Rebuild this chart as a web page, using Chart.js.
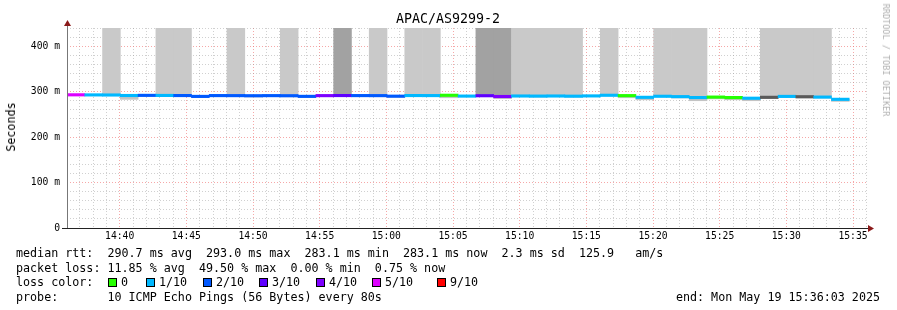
<!DOCTYPE html>
<html>
<head>
<meta charset="utf-8">
<script src="https://cdn.jsdelivr.net/npm/chart.js@4.4.1/dist/chart.umd.min.js"></script>
<style>
body { margin: 0; background: #fff; }
#wrap { position: relative; width: 897px; height: 310px; overflow: hidden; font-family: "DejaVu Sans Mono", monospace; color: #000; }
canvas { position: absolute; left: 0; top: 0; }
.t { position: absolute; white-space: pre; font-size: 11.7px; line-height: 14px; }
.sq { position: absolute; width: 7px; height: 7px; border: 1px solid #000; }
</style>
</head>
<body>
<div id="wrap">
  <canvas id="myChart" width="897" height="310"></canvas>
  <div class="t" style="left:448px;top:11px;transform:translateX(-50%);font-size:13.3px;line-height:16px">APAC/AS9299-2</div>
  <div class="t" style="left:11px;top:127px;transform:translate(-50%,-50%) rotate(-90deg)">Seconds</div>
  <div class="t" style="left:886px;top:60px;transform:translate(-50%,-50%) rotate(90deg);font-size:8.5px;color:#b0b0b0">RRDTOOL / TOBI OETIKER</div>
  <div class="t" style="left:16px;top:246px">median rtt:  290.7 ms avg  293.0 ms max  283.1 ms min  283.1 ms now  2.3 ms sd  125.9   am/s</div>
  <div class="t" style="left:16px;top:261px">packet loss: 11.85 % avg  49.50 % max  0.00 % min  0.75 % now</div>
  <div class="t" style="left:16px;top:275px">loss color:</div>
  <div id="losslegend"></div>
  <div class="t" style="left:16px;top:290px">probe:       10 ICMP Echo Pings (56 Bytes) every 80s</div>
  <div class="t" style="right:17px;top:290px">end: Mon May 19 15:36:03 2025</div>
</div>
<script>
// 45 steps of 80s, from 14:36:03 to 15:36:03
const medians = [293.0, 292.8, 292.6, 291.5, 291.8, 291.6, 291.4, 289.5, 291.3, 291.2,
                 291.0, 291.2, 291.0, 289.6, 291.2, 291.4, 291.3, 291.2, 290.0, 291.4,
                 291.3, 292.0, 290.2, 291.0, 289.3, 290.4, 290.2, 290.4, 290.0, 290.6,
                 292.0, 291.2, 287.5, 289.8, 289.0, 287.0, 288.0, 287.0, 285.5, 287.5,
                 289.5, 288.8, 288.0, 283.1, null]
const loss = ['5', '1', '1', '1', '2', '1', '2', '2', '2', '2',
              '2', '2', '2', '2', '4', '3', '2', '2', '2', '1',
              '1', '0', '1', '3', '4', '1', '1', '1', '1', '1',
              '1', '0', '1', '1', '1', '1', '0', '0', '1', 'x',
              '1', 'x', '1', '1', null]
// upper smoke: l = light, d = dark
const upperSmoke = ['', '', 'l', '', '', 'l', 'l', '', '', 'l',
                    '', '', 'l', '', '', 'd', '', 'l', '', 'l',
                    'l', '', '', 'd', 'd', 'l', 'l', 'l', 'l', '',
                    'l', '', '', 'l', 'l', 'l', '', '', '', 'l',
                    'l', 'l', 'l', '', '']
const lowerSmoke = [null, null, null, 283.0, null, null, null, 287.5, null, null,
                    288.0, null, 288.5, 287.5, null, null, null, null, 287.5, null,
                    null, 286.5, null, null, 284.5, null, 288.0, null, 288.0, null,
                    null, 286.5, 282.0, null, 286.0, 280.0, 284.0, 282.0, 280.0, 284.5,
                    null, 286.0, 286.0, 278.5, null]

const lossColors = { '0': '#26ff00', '1': '#00b8ff', '2': '#0059ff', '3': '#5e00ff',
                     '4': '#7e00ff', '5': '#dd00ff', '9': '#ff0000', 'x': '#5a5a5a' }
const legendItems = [['0', '0', 108], ['1', '1/10', 146], ['2', '2/10', 203], ['3', '3/10', 259],
                     ['4', '4/10', 316], ['5', '5/10', 372], ['9', '9/10', 437]]

const startMin = 14 * 60 + 36 + 3 / 60
const yMax = 440

const lg = document.getElementById('losslegend')
legendItems.forEach(it => {
  const s = document.createElement('div')
  s.className = 'sq'
  s.style.left = it[2] + 'px'
  s.style.top = '278px'
  s.style.background = lossColors[it[0]]
  lg.appendChild(s)
  const t = document.createElement('div')
  t.className = 't'
  t.style.left = (it[2] + 13) + 'px'
  t.style.top = '275px'
  t.textContent = it[1]
  lg.appendChild(t)
})

const steps = medians.map((m, i) => i)
const pad2 = n => String(n).padStart(2, '0')

const bar = {
  xAxisID: 'xb', grouped: false, barPercentage: 1, categoryPercentage: 1,
  borderWidth: 0, borderSkipped: false
}

const axisPlugin = {
  id: 'axes',
  afterDraw(chart) {
    const c = chart.ctx, a = chart.chartArea
    c.save()
    c.strokeStyle = '#777'
    c.lineWidth = 1
    c.beginPath(); c.moveTo(a.left + 0.5, a.bottom); c.lineTo(a.left + 0.5, a.top - 4); c.stroke()
    c.strokeStyle = '#222'
    c.beginPath(); c.moveTo(a.left - 5, a.bottom + 0.5); c.lineTo(a.right + 3, a.bottom + 0.5); c.stroke()
    c.fillStyle = '#8b1a1a'
    c.beginPath(); c.moveTo(a.left - 3, a.top - 2); c.lineTo(a.left + 4, a.top - 2); c.lineTo(a.left + 0.5, a.top - 8); c.closePath(); c.fill()
    c.beginPath(); c.moveTo(a.right + 1, a.bottom - 3); c.lineTo(a.right + 1, a.bottom + 4); c.lineTo(a.right + 7, a.bottom + 0.5); c.closePath(); c.fill()
    c.restore()
  }
}

const ctx = document.getElementById('myChart').getContext('2d')
const myChart = new Chart(ctx, {
  type: 'bar',
  data: {
    labels: steps,
    datasets: [
      Object.assign({
        data: medians.map((m, i) => m !== null ? [m - 2.7, m + 2.7] : null),
        backgroundColor: loss.map(l => l ? lossColors[l] : '#000'),
        order: 1
      }, bar),
      Object.assign({
        data: medians.map((m, i) => lowerSmoke[i] !== null ? [lowerSmoke[i], m] : null),
        backgroundColor: '#c4c4c4',
        order: 3
      }, bar),
      Object.assign({
        data: medians.map((m, i) => upperSmoke[i] === 'l' ? [m, yMax] : null),
        backgroundColor: '#c9c9c9',
        order: 4
      }, bar),
      Object.assign({
        data: medians.map((m, i) => upperSmoke[i] === 'd' ? [m, yMax] : null),
        backgroundColor: '#a2a2a2',
        order: 4
      }, bar)
    ]
  },
  options: {
    responsive: false,
    animation: false,
    devicePixelRatio: 1,
    layout: { padding: { left: 0, right: 30, top: 28, bottom: 62 } },
    plugins: { legend: { display: false }, tooltip: { enabled: false }, title: { display: false } },
    scales: {
      xb: { type: 'category', display: false, offset: true },
      x: {
        type: 'linear', position: 'bottom', min: startMin, max: startMin + 60, offset: false,
        afterBuildTicks: s => {
          s.ticks = []
          for (let m = 877; m <= 936; m++) s.ticks.push({ value: m })
        },
        afterFit: s => { s.height = 20 },
        ticks: {
          autoSkip: false, maxRotation: 0, padding: 3, color: '#000',
          font: { family: 'DejaVu Sans Mono', size: 9.7 },
          callback: v => v % 5 === 0 ? pad2(Math.floor(v / 60)) + ':' + pad2(v % 60) : ''
        },
        grid: {
          drawTicks: false, offset: false,
          color: c => c.tick && c.tick.value % 5 === 0 ? 'rgba(240,110,110,0.6)' : 'rgba(150,150,150,0.45)'
        },
        border: { display: false, dash: [1, 2] }
      },
      y: {
        min: 0, max: yMax,
        afterFit: s => { s.width = 67 },
        ticks: {
          stepSize: 20, autoSkip: false, padding: 7, color: '#000',
          font: { family: 'DejaVu Sans Mono', size: 9.7 },
          callback: v => v % 100 === 0 ? (v === 0 ? '0' : v + ' m') : ''
        },
        grid: {
          drawTicks: false,
          color: c => c.tick && c.tick.value % 100 === 0 ? 'rgba(240,110,110,0.6)' : 'rgba(150,150,150,0.45)'
        },
        border: { display: false, dash: [1, 2] }
      }
    }
  },
  plugins: [axisPlugin]
})
</script>
</body>
</html>
